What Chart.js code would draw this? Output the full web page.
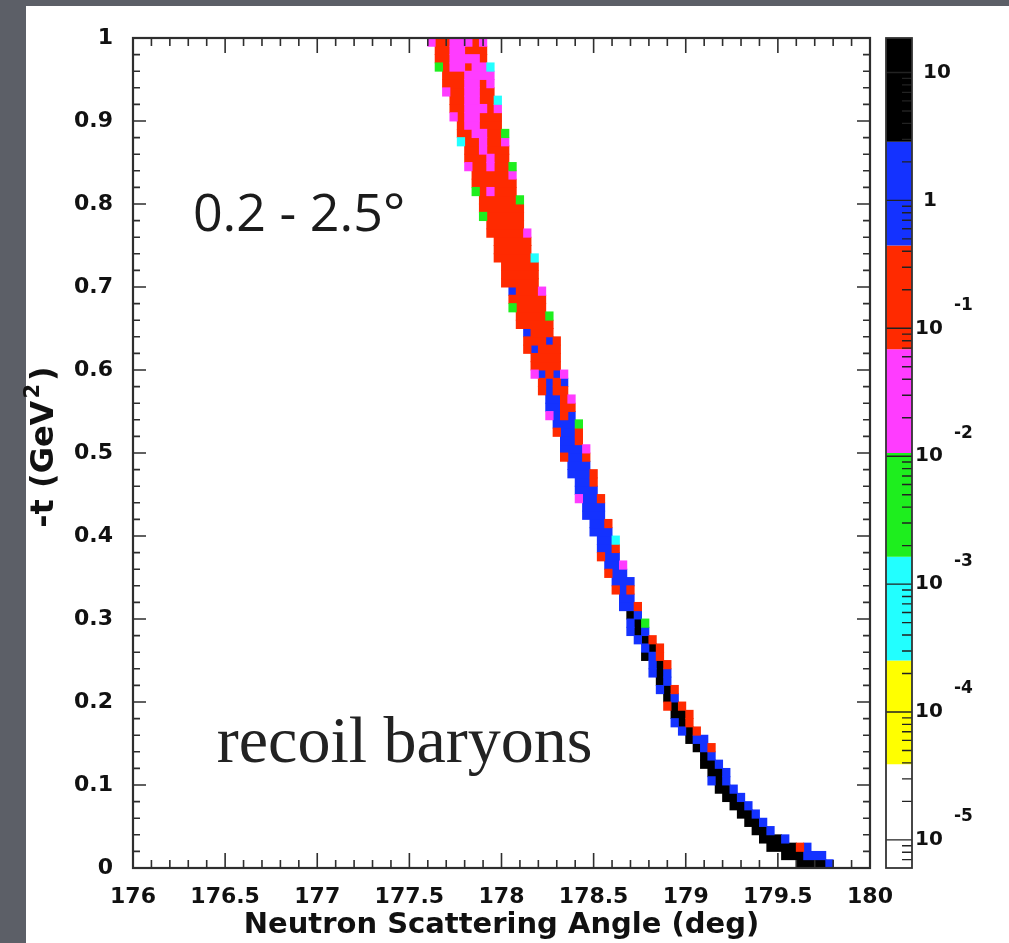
<!DOCTYPE html>
<html><head><meta charset="utf-8">
<script src="https://cdn.jsdelivr.net/npm/chart.js@4/dist/chart.umd.min.js"></script>
<style>html,body{margin:0;padding:0;background:#5c5f67;overflow:hidden}canvas{display:block}</style>
</head><body><canvas id="c" width="1009" height="943"></canvas>
<script>
// ---------------- data ----------------
const xTickValues = [176, 176.5, 177, 177.5, 178, 178.5, 179, 179.5, 180];
const xTickLabels = ['176', '176.5', '177', '177.5', '178', '178.5', '179', '179.5', '180'];
const yTickValues = [0, 0.1, 0.2, 0.3, 0.4, 0.5, 0.6, 0.7, 0.8, 0.9, 1];
const yTickLabels = ['0', '0.1', '0.2', '0.3', '0.4', '0.5', '0.6', '0.7', '0.8', '0.9', '1'];
const zTickExponents = [1, 0, -1, -2, -3, -4, -5];
const zExpMin = -5.22, zExpMax = 1.27;   // colour axis range (log10)
const nContours = 8;
const levelColors = ['#ffffff', '#ffff00', '#22ffff', '#1eee1e', '#ff3cff', '#ff2a00', '#1432ff', '#000000'];
// cell code -> representative bin content
const codeValues = { y: 1.0e-4, c: 6.5e-4, g: 4.2e-3, m: 2.7e-2, r: 0.17, b: 1.1, k: 7.2 };
const xBinOrigin = 176, xBinWidth = 0.04, tBinWidth = 0.01;
// row r covers -t in [r*0.01, (r+1)*0.01]; first filled angle bin and the run of cells
const rowStart = [
  90, 88, 86, 85, 84, 83, 82, 81, 80, 79,
  78, 78, 77, 77, 76, 75, 74, 73, 73, 72,
  72, 71, 71, 70, 70, 69, 69, 68, 67, 67,
  67, 66, 66, 65, 65, 64, 64, 63, 63, 63,
  62, 62, 61, 61, 60, 60, 60, 59, 59, 58,
  58, 58, 57, 57, 56, 56, 56, 55, 55, 54,
  54, 54, 53, 53, 53, 52, 52, 51, 51, 51,
  50, 50, 50, 49, 49, 49, 48, 48, 47, 47,
  47, 46, 46, 46, 45, 45, 45, 44, 44, 44,
  43, 43, 43, 42, 42, 42, 41, 41, 41, 40
];
const rowCells = [
  'kkkkb', 'kkkbbb', 'kkkkrb', 'kkkb', 'kkb', 'kkb', 'kkb', 'kkb', 'kkb', 'kkb',
  'bkb', 'kkb', 'kkb', 'kb', 'kbr', 'kbb', 'bkr', 'bkr', 'kkr', 'rkr',
  'kb', 'bkr', 'kb', 'bkb', 'bkr', 'kbr', 'bkr', 'bkr', 'bkb', 'bkg',
  'kb', 'bbr', 'bb', 'rbr', 'bbb', 'rbb', 'bbm', 'rbb', 'bbr', 'bbc',
  'bbb', 'bbr', 'bbb', 'bbb', 'mbbr', 'bbb', 'bbr', 'bbbr', 'bbb', 'rbbr',
  'bbbm', 'bbr', 'rbbr', 'bbbg', 'mbrb', 'bbrr', 'bbrm', 'rbrr', 'rbrb', 'mbrbm',
  'rrrr', 'rrrr', 'rbrrr', 'rrrbr', 'brrr', 'rrrrr', 'rrrrg', 'grrrr', 'rrrrr', 'brrrm',
  'rrrrr', 'rrrrr', 'rrrrr', 'rrrrrc', 'rrrrr', 'rrrrr', 'rrrrrm', 'rrrrr', 'grrrrr', 'rrrrrr',
  'rrrrrg', 'grmrrr', 'rrrrrr', 'rrrrrm', 'mrrmrrg', 'rrrmrr', 'rrmrrr', 'crrmrrm', 'rrmmrrg', 'rmmrrr',
  'mrmmrrr', 'rrmmmrm', 'rrmmrrc', 'mrrmmrr', 'rrrmmrm', 'rrrmmmm', 'grmmrmmc', 'rrmmmmr', 'rrmmrrr', 'mrrmmmrm'
];
// --------------------------------------

function levelOf(v) {
  const step = (zExpMax - zExpMin) / nContours;
  let k = Math.floor((Math.log10(v) - zExpMin) / step);
  return Math.max(0, Math.min(nContours - 1, k));
}

// build one floating-bar dataset per colour level (runs of equal cells merged)
const levelData = levelColors.map(() => []);
rowCells.forEach((cells, r) => {
  const yc = +((r + 0.5) * tBinWidth).toFixed(4);
  let i = 0;
  while (i < cells.length) {
    let j = i;
    while (j + 1 < cells.length && cells[j + 1] === cells[i]) j++;
    const lev = levelOf(codeValues[cells[i]]);
    const x0 = +(xBinOrigin + (rowStart[r] + i) * xBinWidth).toFixed(4);
    const x1 = +(xBinOrigin + (rowStart[r] + j + 1) * xBinWidth).toFixed(4);
    levelData[lev].push({ y: yc, x: [x0, x1] });
    i = j + 1;
  }
});
const datasets = levelData.map((d, k) => ({
  label: 'level' + k, data: d, backgroundColor: levelColors[k]
})).filter(ds => ds.data.length);

const decor = {
  id: 'decor',
  beforeDraw(chart) {
    const c = chart.ctx;
    c.save();
    c.fillStyle = '#5c5f67'; c.fillRect(0, 0, chart.width, chart.height);
    c.fillStyle = '#ffffff'; c.fillRect(26, 6, chart.width - 26, chart.height - 6);
    c.restore();
  },
  afterDatasetsDraw(chart) {
    const c = chart.ctx, a = chart.chartArea, x = chart.scales.x, y = chart.scales.y, z = chart.scales.z;
    c.save();
    // inward tick marks on all four sides
    c.strokeStyle = '#2e2e2e'; c.lineWidth = 1.6;
    c.beginPath();
    for (let i = 0; i <= 40; i++) {
      const px = x.getPixelForValue(176 + i * 0.1);
      const len = (i % 5 === 0) ? 15 : 8;
      c.moveTo(px, a.bottom); c.lineTo(px, a.bottom - len);
      c.moveTo(px, a.top); c.lineTo(px, a.top + len);
    }
    for (let i = 0; i <= 50; i++) {
      const py = y.getPixelForValue(i * 0.02);
      const len = (i % 5 === 0) ? 13 : 7;
      c.moveTo(a.left, py); c.lineTo(a.left + len, py);
      c.moveTo(a.right, py); c.lineTo(a.right - len, py);
    }
    c.stroke();
    c.lineWidth = 2.2;
    c.strokeRect(a.left, a.top, a.right - a.left, a.bottom - a.top);

    // y-axis title (ROOT style superscript)
    c.save();
    c.translate(a.left - 80, y.getPixelForValue(0.41));
    c.rotate(-Math.PI / 2);
    c.fillStyle = '#111'; c.textBaseline = 'alphabetic'; c.textAlign = 'left';
    c.font = 'bold 32px "DejaVu Sans"';
    const t1 = '-t (GeV';
    c.fillText(t1, 0, 0);
    let w = c.measureText(t1).width + 2;
    c.font = 'bold 21px "DejaVu Sans"';
    c.fillText('2', w, -14);
    w += c.measureText('2').width + 3;
    c.font = 'bold 32px "DejaVu Sans"';
    c.fillText(')', w, 0);
    c.restore();

    // colour bar
    const cbL = z.left + 16, cbR = z.left + 42;
    const step = (zExpMax - zExpMin) / nContours;
    for (let k = 0; k < nContours; k++) {
      const yT = z.getPixelForValue(Math.pow(10, zExpMin + (k + 1) * step));
      const yB = z.getPixelForValue(Math.pow(10, zExpMin + k * step));
      c.fillStyle = levelColors[k];
      c.fillRect(cbL, yT, cbR - cbL, yB - yT);
    }
    c.strokeStyle = '#222'; c.lineWidth = 1.4;
    c.beginPath();
    const vMin = Math.pow(10, zExpMin), vMax = Math.pow(10, zExpMax);
    for (let e = -6; e <= 1; e++) {
      for (let m = 1; m <= 9; m++) {
        const v = m * Math.pow(10, e);
        if (v < vMin || v > vMax) continue;
        const py = z.getPixelForValue(v);
        if (m === 1) { c.moveTo(cbL, py); c.lineTo(cbR, py); }
        else { c.moveTo(cbR - 10, py); c.lineTo(cbR, py); }
      }
    }
    c.stroke();
    c.lineWidth = 1.8; c.strokeStyle = '#333';
    c.strokeRect(cbL, a.top, cbR - cbL, a.bottom - a.top);

    // colour bar labels
    c.fillStyle = '#111'; c.textBaseline = 'middle'; c.textAlign = 'left';
    zTickExponents.forEach(e => {
      const py = z.getPixelForValue(Math.pow(10, e));
      c.font = 'bold 20px "DejaVu Sans"';
      if (e === 1) c.fillText('10', cbR + 11, py);
      else if (e === 0) c.fillText('1', cbR + 11, py);
      else {
        c.fillText('10', cbR + 3, py);
        c.font = 'bold 17px "DejaVu Sans"';
        c.fillText(String(e), cbR + 42, py - 23);
      }
    });

    // annotations
    c.fillStyle = '#1b1b1b'; c.textBaseline = 'alphabetic';
    c.font = '52px "Open Sans"';
    c.fillText('0.2 - 2.5\u00B0', x.getPixelForValue(176.325), y.getPixelForValue(0.767));
    c.fillStyle = '#222';
    c.font = '66px "Liberation Serif"';
    c.fillText('recoil baryons', x.getPixelForValue(176.455), y.getPixelForValue(0.128));
    c.restore();
  }
};

const tickFont = { family: 'DejaVu Sans', weight: 'bold', size: 22 };
new Chart(document.getElementById('c'), {
  type: 'bar',
  data: { datasets },
  options: {
    indexAxis: 'y',
    responsive: false,
    animation: false,
    events: [],
    layout: { padding: { top: 38, left: 0, right: 0, bottom: 0 } },
    plugins: { legend: { display: false }, tooltip: { enabled: false } },
    datasets: { bar: { grouped: false, barPercentage: 1, categoryPercentage: 1, borderWidth: 0, inflateAmount: 0.45 } },
    scales: {
      x: {
        type: 'linear', position: 'bottom', min: 176, max: 180, beginAtZero: false,
        grid: { display: false, drawTicks: false }, border: { display: false },
        afterBuildTicks: s => { s.ticks = xTickValues.map(v => ({ value: v })); },
        ticks: { callback: (v, i) => xTickLabels[i], font: tickFont, color: '#111', padding: 16, maxRotation: 0, minRotation: 0, autoSkip: false },
        title: { display: true, text: 'Neutron Scattering Angle (deg)', color: '#111',
                 font: { family: 'DejaVu Sans', weight: 'bold', size: 29 }, padding: { top: 0, bottom: 0 } },
        afterFit: s => { s.height = 75; s.paddingLeft = 0; s.paddingRight = 0; }
      },
      y: {
        type: 'linear', position: 'left', min: 0, max: 1, offset: false,
        grid: { display: false, drawTicks: false, offset: false }, border: { display: false },
        afterBuildTicks: s => { s.ticks = yTickValues.map(v => ({ value: v })); },
        ticks: { callback: (v, i) => yTickLabels[i], font: tickFont, color: '#111', padding: 20, autoSkip: false },
        title: { display: false },
        afterFit: s => { s.width = 133; s.paddingTop = 0; s.paddingBottom = 0; }
      },
      z: {
        type: 'logarithmic', axis: 'y', position: 'right',
        min: Math.pow(10, zExpMin), max: Math.pow(10, zExpMax),
        grid: { display: false, drawTicks: false }, border: { display: false },
        ticks: { display: false },
        afterFit: s => { s.width = 139; s.paddingTop = 0; s.paddingBottom = 0; }
      }
    }
  },
  plugins: [decor]
});
</script>
</body></html>
